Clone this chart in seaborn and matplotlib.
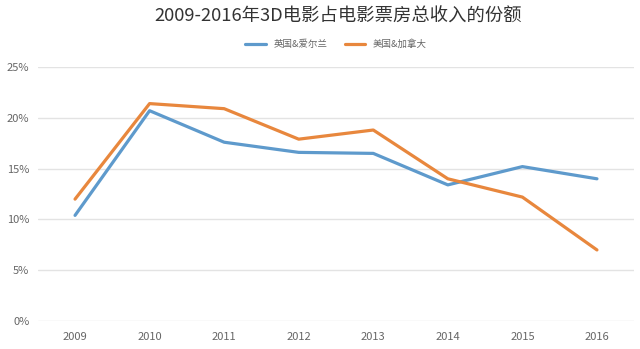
import matplotlib
matplotlib.use("Agg")
import matplotlib.pyplot as plt
import seaborn as sns
import pandas as pd
from matplotlib.ticker import FuncFormatter

years = ["2009", "2010", "2011", "2012", "2013", "2014", "2015", "2016"]
uk_ireland = [10.4, 20.7, 17.6, 16.6, 16.5, 13.4, 15.2, 14.0]
us_canada = [12.0, 21.4, 20.9, 17.9, 18.8, 14.0, 12.2, 7.0]
series_names = ["英国&爱尔兰", "美国&加拿大"]
title = "2009-2016年3D电影占电影票房总收入的份额"

df = pd.DataFrame({
    "year": years * 2,
    "share": uk_ireland + us_canada,
    "series": [series_names[0]] * len(years) + [series_names[1]] * len(years),
})

sns.set_theme(style="white")
plt.rcParams["font.family"] = ["Noto Sans CJK SC", "DejaVu Sans"]

fig = plt.figure(figsize=(6.4, 3.49), dpi=100)
ax = fig.add_axes([0.059, 0.080, 0.932, 0.728])

palette = {series_names[0]: "#5e9acc", series_names[1]: "#e8873d"}
sns.lineplot(data=df, x="year", y="share", hue="series", palette=palette,
             linewidth=2.3, sort=False, ax=ax, legend=True)

ax.set_xlim(-0.5, 7.5)
ax.set_ylim(0, 25)
ax.set_yticks([0, 5, 10, 15, 20, 25])
ax.yaxis.set_major_formatter(FuncFormatter(lambda v, _: f"{int(v)}%"))
ax.grid(axis="y", color="#e3e3e3", linewidth=1)
ax.set_axisbelow(True)
for s in ax.spines.values():
    s.set_visible(False)
ax.set_xlabel("")
ax.set_ylabel("")
ax.tick_params(axis="both", length=0, labelsize=8, labelcolor="#666666")
ax.tick_params(axis="x", pad=8)
ax.tick_params(axis="y", pad=6)

leg = ax.legend(loc="center", bbox_to_anchor=(0.5, 1.09), ncol=2, frameon=False,
                fontsize=6.8, handlelength=2.2, columnspacing=1.8,
                handletextpad=0.8)
for t in leg.get_texts():
    t.set_color("#666666")

fig.text(0.528, 0.951, title, ha="center", va="center", fontsize=13.2, color="#333333")

fig.savefig("out.png", dpi=100, facecolor="white")
